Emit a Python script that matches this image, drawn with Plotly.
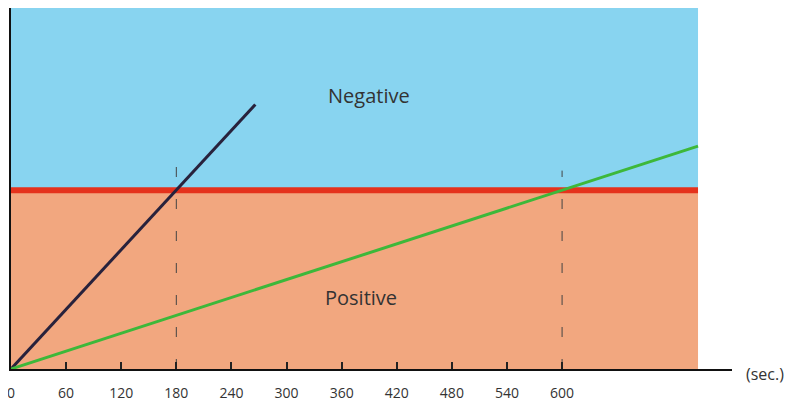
import plotly.graph_objects as go

# Data
tick_vals = [0, 60, 120, 180, 240, 300, 360, 420, 480, 540, 600]
tick_text = [str(v) for v in tick_vals]
threshold = 1.0
fast_x = [0, 266]
fast_y = [0, 1.48]
slow_x = [0, 748]
slow_y = [0, 1.247]
cross_x = [180, 600]
cross_top = [1.17, 1.11]
region_end = 748
y_top = 2.02

fig = go.Figure()

# background regions
fig.add_shape(type="rect", x0=0, x1=region_end, y0=threshold, y1=y_top,
              fillcolor="#88d4f0", line_width=0, layer="below")
fig.add_shape(type="rect", x0=0, x1=region_end, y0=0, y1=threshold,
              fillcolor="#f2a77f", line_width=0, layer="below")

# dashed verticals
for cx, ct in zip(cross_x, cross_top):
    fig.add_trace(go.Scatter(x=[cx, cx], y=[0, ct], mode="lines",
                             line=dict(color="#444444", width=1, dash="10px,22px"),
                             hoverinfo="skip", showlegend=False))

# threshold line
fig.add_trace(go.Scatter(x=[0, region_end], y=[threshold, threshold], mode="lines",
                         line=dict(color="#e5321c", width=6), showlegend=False))
# fast line
fig.add_trace(go.Scatter(x=fast_x, y=fast_y, mode="lines",
                         line=dict(color="#28223c", width=3), showlegend=False))
# slow line
fig.add_trace(go.Scatter(x=slow_x, y=slow_y, mode="lines",
                         line=dict(color="#3db83a", width=3), showlegend=False))

fig.add_annotation(x=390, y=1.53, text="Negative", showarrow=False,
                   font=dict(size=20, color="#333333", family="Open Sans"))
fig.add_annotation(x=381, y=0.40, text="Positive", showarrow=False,
                   font=dict(size=20, color="#333333", family="Open Sans"))
fig.add_annotation(x=1.0, xref="paper", xanchor="left", xshift=12,
                   y=0.0, yshift=-5, text="(sec.)", showarrow=False, yanchor="middle",
                   font=dict(size=16, color="#333333", family="Open Sans"))

fig.update_layout(
    width=802, height=407,
    margin=dict(l=3, r=78, t=0, b=46),
    paper_bgcolor="white", plot_bgcolor="white",
    font=dict(family="Open Sans", color="#333333"),
    xaxis=dict(range=[0, 785], tickvals=tick_vals, ticktext=tick_text,
               ticks="inside", ticklen=7, tickcolor="#222222", tickwidth=1.5,
               showline=True, linecolor="#111111", linewidth=2,
               showgrid=False, zeroline=False, ticklabelstandoff=10,
               ticklabeloverflow="allow",
               tickfont=dict(size=14, color="#333333")),
    yaxis=dict(range=[0, y_top], showticklabels=False, ticks="",
               showline=True, linecolor="#111111", linewidth=1.5,
               showgrid=False, zeroline=False),
)

fig.write_html("out.html")
